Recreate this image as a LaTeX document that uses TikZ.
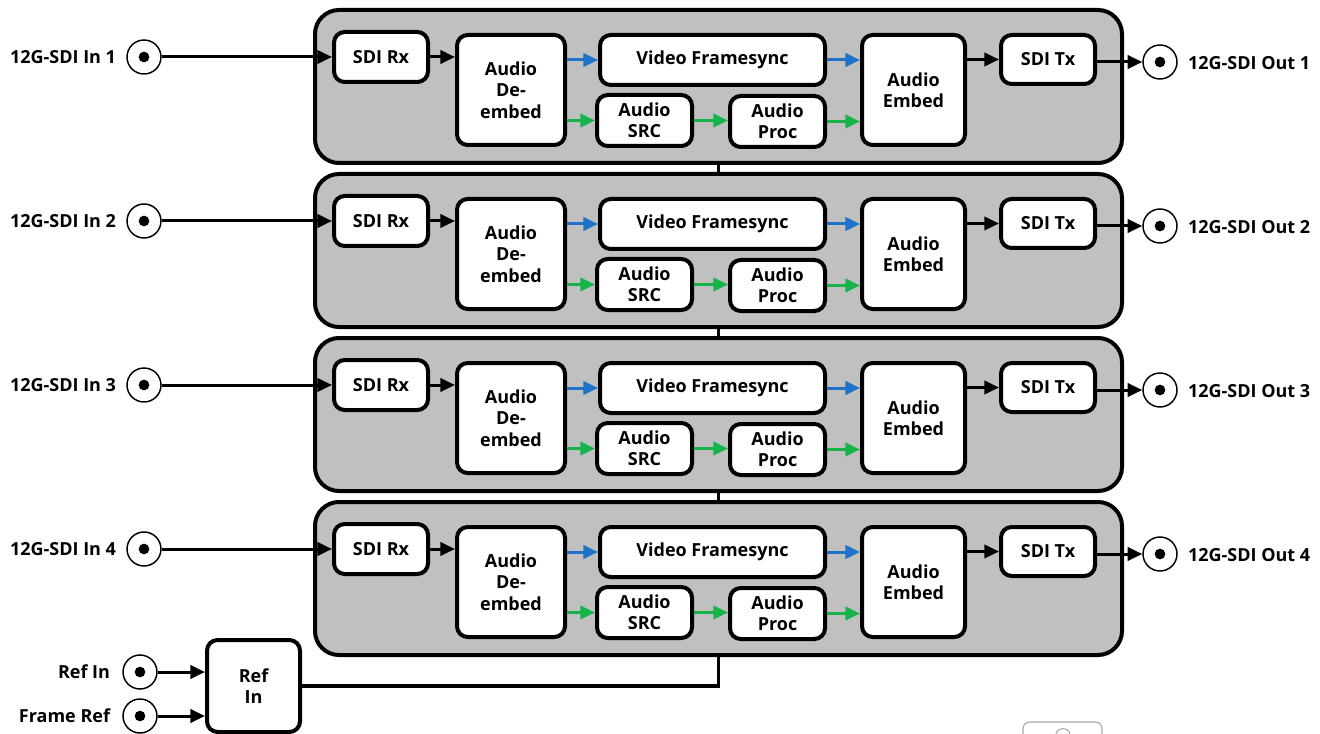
\documentclass[tikz,border=0pt]{standalone}
\usepackage{fontspec}
\setmainfont{Open Sans}
\usetikzlibrary{arrows.meta,backgrounds}
\definecolor{pgray}{RGB}{192,192,192}
\definecolor{ablue}{RGB}{30,115,200}
\definecolor{agreen}{RGB}{20,180,75}
\tikzset{
  panelbox/.style={draw, line width=3pt, fill=pgray, rounded corners=18pt, inner sep=0pt},
  blk/.style={draw, line width=3pt, fill=white, rounded corners=8pt, inner sep=0pt, align=center,
    font=\bfseries\fontsize{13.5}{16}\selectfont},
  lbl/.style={font=\bfseries\fontsize{13.5}{16}\selectfont, inner sep=0pt},
  conn/.style={draw, circle, line width=1.1pt, minimum size=25.5pt, inner sep=0pt, fill=white},
  arr/.style={line width=2.25pt, -{Triangle[length=11pt,width=10pt]}},
  barr/.style={arr, ablue},
  garr/.style={arr, agreen},
}
\newcommand\blk[6]{\node[blk, minimum width={((#4)-(#2))*0.75pt}, minimum height={((#5)-(#3))*0.75pt}] (#1) at ({((#2)+(#4))/2},{((#3)+(#5))/2}) {#6};}
\newcommand\pnl[5]{\node[panelbox, minimum width={((#4)-(#2))*0.75pt}, minimum height={((#5)-(#3))*0.75pt}] (#1) at ({((#2)+(#4))/2},{((#3)+(#5))/2}) {};}
\begin{document}
\begin{tikzpicture}[x=0.75pt,y=-0.75pt]
\useasboundingbox (0,0) rectangle (1320,734);
\foreach \i/\o in {1/0,2/164,3/328,4/492}{
  \pnl{panel\i}{315}{10+\o}{1122}{163+\o}
  \blk{rx\i}{334}{32+\o}{428}{82+\o}{SDI Rx}
  \blk{de\i}{457}{35+\o}{565}{145+\o}{Audio\\De-\\embed}
  \blk{fs\i}{600}{35+\o}{825}{85+\o}{Video Framesync}
  \blk{src\i}{597}{95+\o}{692}{146+\o}{Audio\\SRC}
  \blk{proc\i}{730}{96+\o}{825}{147+\o}{Audio\\Proc}
  \blk{emb\i}{862}{35+\o}{965}{145+\o}{Audio\\Embed}
  \blk{tx\i}{1001}{35+\o}{1095}{84+\o}{SDI Tx}
  \node[conn] (in\i) at (144,57+\o) {};
  \fill (in\i) circle (4pt);
  \node[conn] (out\i) at (1160,62+\o) {};
  \fill (out\i) circle (4pt);
  \node[lbl, anchor=east] (lin\i) at ([xshift=-7.5pt]in\i.west) {12G-SDI In \i};
  \node[lbl, anchor=west] (lout\i) at ([xshift=7.5pt,yshift=-1pt]out\i.east) {12G-SDI Out \i};
  \draw[arr] (in\i.east) -- (in\i.east -| rx\i.west);
  \draw[arr] (rx\i.east) -- (rx\i.east -| de\i.west);
  \draw[barr] (de\i.east |- fs\i.west) -- (fs\i.west);
  \draw[garr] (de\i.east |- src\i.west) -- (src\i.west);
  \draw[garr] (src\i.east) -- (src\i.east -| proc\i.west);
  \draw[garr] (proc\i.east) -- (proc\i.east -| emb\i.west);
  \draw[barr] (fs\i.east) -- (fs\i.east -| emb\i.west);
  \draw[arr] (emb\i.east |- tx\i.west) -- (tx\i.west);
  \draw[arr] (tx\i.east |- out\i.west) -- (out\i.west);
}
\blk{ref}{207}{640}{300}{732}{Ref\\In}
\node[conn] (cref) at (140,672) {};
\fill (cref) circle (4pt);
\node[conn] (cfr) at (140,716) {};
\fill (cfr) circle (4pt);
\node[lbl, anchor=east] (lref) at ([xshift=-9pt]cref.west) {Ref In};
\node[lbl, anchor=east] (lfr) at ([xshift=-9pt]cfr.west) {Frame Ref};
\draw[arr] (cref.east) -- (cref.east -| ref.west);
\draw[arr] (cfr.east) -- (cfr.east -| ref.west);
\begin{pgfonlayer}{background}
\draw[line width=2.5pt] (ref.east) -| (panel1.south);
\end{pgfonlayer}
\draw[gray!70, line width=0.8pt, rounded corners=5pt] (1023,740) -- (1023,722) -- (1102,722) -- (1102,740);
\draw[gray!70, line width=0.8pt] (1063,736) circle (5.5pt);
\end{tikzpicture}
\end{document}
